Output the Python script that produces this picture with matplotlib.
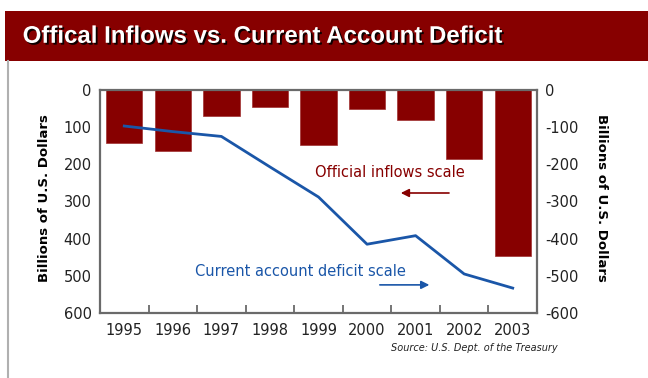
import matplotlib.pyplot as plt
import matplotlib.patheffects as pe
from matplotlib.patches import Rectangle
from matplotlib.lines import Line2D

# data
years = ['1995', '1996', '1997', '1998', '1999', '2000', '2001', '2002', '2003']
official_inflows = [143, 163, 70, 46, 148, 52, 82, 186, 446]       # left scale
current_account = [-97, -112, -125, -207, -288, -415, -392, -495, -533]  # right scale
left_ticks = [0, 100, 200, 300, 400, 500, 600]
right_ticks = [0, -100, -200, -300, -400, -500, -600]

bar_color = '#870000'
line_color = '#1a56a8'
spine_color = '#6a6a6a'

fig = plt.figure(figsize=(6.48, 3.78), dpi=100)
fig.patch.set_facecolor('white')

# title band
fig.patches.append(Rectangle((0.008, 0.839), 0.992, 0.132, transform=fig.transFigure,
                             facecolor=bar_color, edgecolor='none'))
fig.text(0.035, 0.904, 'Offical Inflows vs. Current Account Deficit', color='white',
         fontsize=17.3, fontweight='bold', family='Liberation Sans', va='center',
         path_effects=[pe.withSimplePatchShadow(offset=(1.3, -1.3), shadow_rgbFace='black', alpha=0.9)])
# thin grey frame on the left
fig.lines.append(Line2D([0.012, 0.012], [0.0, 0.839], transform=fig.transFigure,
                        color='#b0b0b0', lw=1.5))

ax = fig.add_axes([0.1543, 0.172, 0.6744, 0.590])
x = list(range(len(years)))
ax.bar(x, official_inflows, width=0.75, color=bar_color, edgecolor='#a03030', linewidth=0.5)
ax.set_ylim(600, 0)
ax.set_xlim(-0.5, len(years) - 0.5)
ax.set_yticks(left_ticks)
ax.set_yticklabels([str(t) for t in left_ticks])
ax.set_xticks(x)
ax.set_xticklabels(years)
ax.set_xticks([i + 0.5 for i in x[:-1]], minor=True)
ax.tick_params(axis='x', which='major', length=0, pad=7, labelsize=10.5, colors='#222222')
ax.tick_params(axis='x', which='minor', length=6, direction='in', width=1.3, color=spine_color)
ax.tick_params(axis='y', length=0, pad=6, labelsize=10.5, colors='#222222')
for s in ax.spines.values():
    s.set_color(spine_color)
    s.set_linewidth(1.6)

ax2 = ax.twinx()
ax2.plot(x, current_account, color=line_color, lw=2)
ax2.set_ylim(-600, 0)
ax2.set_yticks(right_ticks)
ax2.set_yticklabels([str(t) for t in right_ticks])
ax2.tick_params(axis='y', length=0, pad=6, labelsize=10.5, colors='#222222')
for s in ax2.spines.values():
    s.set_visible(False)

# annotations
ax.text(0.492, 0.629, 'Official inflows scale', transform=ax.transAxes, color=bar_color,
        fontsize=10.5, va='center', ha='left')
ax.annotate('', xy=(0.682, 0.538), xytext=(0.805, 0.538), xycoords='axes fraction',
            arrowprops=dict(arrowstyle='-|>', color=bar_color, lw=1.2, mutation_scale=12))
ax.text(0.217, 0.184, 'Current account deficit scale', transform=ax.transAxes, color=line_color,
        fontsize=10.5, va='center', ha='left')
ax.annotate('', xy=(0.760, 0.126), xytext=(0.634, 0.126), xycoords='axes fraction',
            arrowprops=dict(arrowstyle='-|>', color=line_color, lw=1.2, mutation_scale=12))

lab = dict(fontsize=9.5, fontweight='bold', family='DejaVu Sans',
           va='center', ha='center')
fig.text(0.069, 0.476, 'Billions of U.S. Dollars', rotation=90, **lab)
fig.text(0.929, 0.476, 'Billions of U.S. Dollars', rotation=270, **lab)

fig.text(0.860, 0.079, 'Source: U.S. Dept. of the Treasury', fontsize=7, style='italic',
         ha='right', va='center', color='#222222')

fig.savefig('out.png', dpi=100)
